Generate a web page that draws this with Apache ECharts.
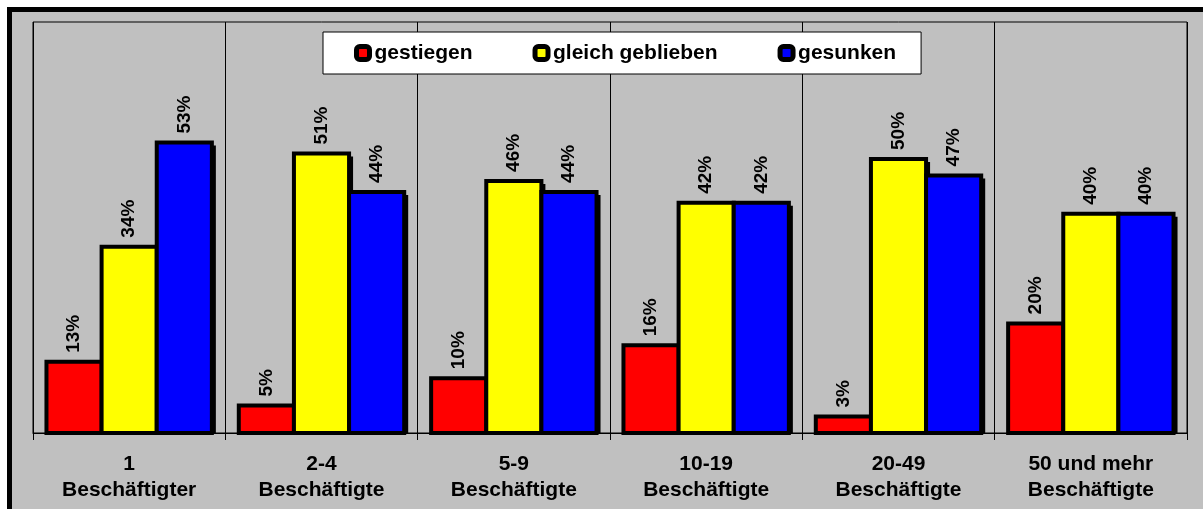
<!DOCTYPE html>
<html>
<head>
<meta charset="utf-8">
<script src="https://cdn.jsdelivr.net/npm/echarts@6/dist/echarts.min.js"></script>
<style>
  html, body { margin: 0; padding: 0; background: #fff; }
  #chart { width: 1203px; height: 509px; }
</style>
</head>
<body>
<div id="chart"></div>
<script>
  var categories = ['1\nBeschäftigter', '2-4\nBeschäftigte', '5-9\nBeschäftigte',
    '10-19\nBeschäftigte', '20-49\nBeschäftigte', '50 und mehr\nBeschäftigte']
  var seriesNames = ['gestiegen', 'gleich geblieben', 'gesunken']
  var gestiegen = [13, 5, 10, 16, 3, 20]
  var gleichGeblieben = [34, 51, 46, 42, 50, 40]
  var gesunken = [53, 44, 44, 42, 47, 40]
  var colors = ['#FF0000', '#FFFF00', '#0000FF']

  var font = 'Arial, "Liberation Sans", sans-serif'
  var groupShare = 0.86 // part of a category taken by the three bars

  // bars with a black frame and a hard drop shadow, like the old office charts
  function barSeries(idx, data) {
    var color = colors[idx]
    return {
      name: seriesNames[idx],
      type: 'custom',
      itemStyle: { color: color },
      data: data.map(function (v, i) { return [i, v] }),
      encode: { x: 0, y: 1 },
      renderItem: function (params, api) {
        var cat = api.value(0)
        var val = api.value(1)
        var top = api.coord([cat, val])
        var base = api.coord([cat, 0])
        var band = api.size([1, 0])[0]
        var w = band * groupShare / 3
        var x0 = top[0] - band * groupShare / 2 + idx * w
        var h = base[1] - top[1]
        return {
          type: 'group',
          children: [{
            type: 'rect',
            shape: { x: x0 + 4, y: top[1] + 3, width: w, height: h - 3 },
            style: { fill: '#000' }
          }, {
            type: 'rect',
            shape: { x: x0, y: top[1], width: w, height: h },
            style: { fill: color, stroke: '#000', lineWidth: 4 }
          }, {
            type: 'text',
            x: x0 + w / 2,
            y: top[1] - 9,
            rotation: Math.PI / 2,
            style: {
              text: val + '%',
              align: 'left',
              verticalAlign: 'middle',
              fill: '#000',
              fontFamily: font,
              fontWeight: 'bold',
              fontSize: 19
            }
          }]
        }
      }
    }
  }

  var chart = echarts.init(document.getElementById('chart'))
  chart.setOption({
    backgroundColor: '#fff',
    animation: false,
    graphic: [{
      type: 'rect',
      z: -100,
      silent: true,
      shape: { x: 9.5, y: 9.5, width: 1400, height: 700 },
      style: { fill: '#C0C0C0', stroke: '#000', lineWidth: 5 }
    }],
    legend: {
      left: 323,
      top: 32,
      itemGap: 60,
      itemWidth: 13,
      itemHeight: 13,
      icon: 'roundRect',
      padding: [10, 25, 10, 31],
      backgroundColor: '#fff',
      borderColor: '#000',
      borderWidth: 1,
      itemStyle: { borderColor: '#000', borderWidth: 5 },
      textStyle: { fontFamily: font, fontWeight: 'bold', fontSize: 21, color: '#000', lineHeight: 22 }
    },
    grid: {
      left: 33,
      right: 16,
      top: 22,
      bottom: 76,
      show: true,
      borderColor: '#000',
      borderWidth: 1,
      backgroundColor: 'transparent'
    },
    xAxis: {
      type: 'category',
      data: categories,
      axisLine: { lineStyle: { color: '#000', width: 1 } },
      axisTick: { show: true, length: 7, lineStyle: { color: '#000' } },
      splitLine: { show: true, lineStyle: { color: '#000', width: 1 } },
      axisLabel: {
        margin: 18,
        color: '#000',
        fontFamily: font,
        fontWeight: 'bold',
        fontSize: 21,
        lineHeight: 26
      }
    },
    yAxis: {
      type: 'value',
      min: 0,
      max: 75,
      show: false,
      splitLine: { show: false }
    },
    series: [
      barSeries(0, gestiegen),
      barSeries(1, gleichGeblieben),
      barSeries(2, gesunken)
    ]
  })
</script>
</body>
</html>
